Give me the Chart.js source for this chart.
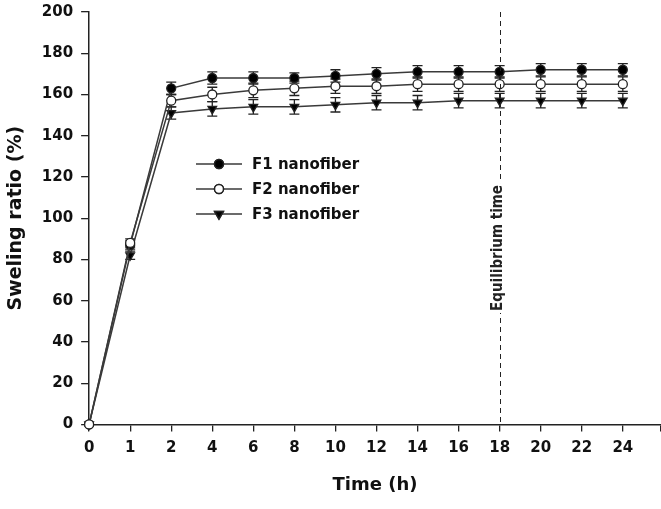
<!DOCTYPE html>
<html>
<head>
<meta charset="utf-8">
<script src="https://cdn.jsdelivr.net/npm/chart.js@4"></script>
<style>
  html, body { margin: 0; padding: 0; background: #fff; }
  #wrap { width: 661px; height: 509px; }
</style>
</head>
<body>
<div id="wrap"><canvas id="swellChart"></canvas></div>
<script>
// time points (h), plotted at equal spacing
const times = ['0', '1', '2', '4', '6', '8', '10', '12', '14', '16', '18', '20', '22', '24'];

// swelling ratio (%) and error bars
const f1 = [0, 87, 163, 168, 168, 168, 169, 170, 171, 171, 171, 172, 172, 172];
const f1Err = [0, 2, 3, 3, 3, 2.5, 3, 3, 3, 3, 3, 3, 3, 3];
const f2 = [0, 88, 157, 160, 162, 163, 164, 164, 165, 165, 165, 165, 165, 165];
const f2Err = [0, 2, 3, 3.5, 3.5, 3.5, 3.5, 3.5, 3.5, 3.5, 3.5, 3.5, 3.5, 3.5];
const f3 = [0, 82, 151, 153, 154, 154, 155, 156, 156, 157, 157, 157, 157, 157];
const f3Err = [0, 2, 3, 3.5, 3.5, 3.5, 3.5, 3.5, 3.5, 3.5, 3.5, 3.5, 3.5, 3.5];

const seriesNames = ['F1 nanofiber', 'F2 nanofiber', 'F3 nanofiber'];
const equilibriumTime = '18';
const yMin = 0, yMax = 200, yStep = 20;
const xMax = 13.93; // axis runs a little past the last time point

const ink = '#222';
const lineCol = '#3a3a3a';

function toPoints(arr) {
    return arr.map((v, i) => ({ x: i, y: v }));
}

// vertical error bars, drawn under the markers
const errorBars = {
    id: 'errorBars',
    beforeDatasetsDraw(chart) {
        const ctx = chart.ctx;
        const xs = chart.scales.x, ys = chart.scales.y;
        ctx.save();
        ctx.strokeStyle = ink;
        ctx.lineWidth = 1.3;
        chart.data.datasets.forEach(ds => {
            ds.data.forEach((p, i) => {
                const e = ds.errors[i];
                if (!e) return;
                const x = xs.getPixelForValue(p.x);
                const yt = ys.getPixelForValue(p.y + e);
                const yb = ys.getPixelForValue(p.y - e);
                ctx.beginPath();
                ctx.moveTo(x, yt); ctx.lineTo(x, yb);
                ctx.moveTo(x - 5, yt); ctx.lineTo(x + 5, yt);
                ctx.moveTo(x - 5, yb); ctx.lineTo(x + 5, yb);
                ctx.stroke();
            });
        });
        ctx.restore();
    }
};

// dashed equilibrium line with its rotated label
const equilibrium = {
    id: 'equilibrium',
    afterDatasetsDraw(chart) {
        const ctx = chart.ctx;
        const xs = chart.scales.x, ys = chart.scales.y;
        const x = Math.round(xs.getPixelForValue(times.indexOf(equilibriumTime))) + 0.5;
        ctx.save();
        ctx.strokeStyle = ink;
        ctx.lineWidth = 1;
        ctx.setLineDash([5, 4]);
        ctx.beginPath();
        ctx.moveTo(x, ys.getPixelForValue(yMax));
        ctx.lineTo(x, ys.getPixelForValue(yMin));
        ctx.stroke();
        ctx.setLineDash([]);
        ctx.translate(x - 2, 248);
        ctx.rotate(-Math.PI / 2);
        ctx.font = 'bold 15px "DejaVu Sans Condensed", "DejaVu Sans"';
        const w = ctx.measureText('Equilibrium time').width;
        ctx.fillStyle = '#fff';
        ctx.fillRect(-w / 2 - 2, -8, w + 4, 16);
        ctx.fillStyle = ink;
        ctx.textAlign = 'center';
        ctx.textBaseline = 'middle';
        ctx.fillText('Equilibrium time', 0, 0);
        ctx.restore();
    }
};

// legend inside the plot
const innerLegend = {
    id: 'innerLegend',
    afterDraw(chart) {
        const ctx = chart.ctx;
        ctx.save();
        chart.data.datasets.forEach((ds, k) => {
            const y = 164 + k * 25;
            ctx.strokeStyle = lineCol;
            ctx.lineWidth = 1.5;
            ctx.beginPath();
            ctx.moveTo(196, y); ctx.lineTo(242, y);
            ctx.stroke();
            Chart.helpers.drawPoint(ctx, {
                pointStyle: ds.pointStyle,
                radius: ds.pointRadius,
                rotation: ds.pointRotation || 0,
                borderWidth: 1.3
            }, 219, y);
            ctx.fillStyle = ds.pointBackgroundColor;
            ctx.strokeStyle = ink;
            ctx.fill();
            ctx.stroke();
            ctx.fillStyle = '#111';
            ctx.font = 'bold 15px "DejaVu Sans"';
            ctx.textBaseline = 'middle';
            ctx.fillText(ds.label, 252, y + 1);
        });
        ctx.restore();
    }
};

const ctx = document.getElementById('swellChart').getContext('2d');
new Chart(ctx, {
    type: 'line',
    data: {
        datasets: [
            { label: seriesNames[0], data: toPoints(f1), errors: f1Err, order: 1,
              pointStyle: 'circle', pointRadius: 4.5, pointBackgroundColor: '#000' },
            { label: seriesNames[1], data: toPoints(f2), errors: f2Err, order: 0,
              pointStyle: 'circle', pointRadius: 4.5, pointBackgroundColor: '#fff' },
            { label: seriesNames[2], data: toPoints(f3), errors: f3Err, order: 2,
              pointStyle: 'triangle', pointRotation: 180, pointRadius: 5, pointBackgroundColor: '#000' }
        ].map(ds => Object.assign({
            borderColor: lineCol,
            borderWidth: 1.5,
            pointBorderColor: ink,
            pointBorderWidth: 1.3,
            tension: 0,
            clip: false
        }, ds))
    },
    options: {
        responsive: true,
        maintainAspectRatio: false,
        animation: false,
        layout: { autoPadding: false, padding: { left: 3, top: 12, right: 0, bottom: 13 } },
        plugins: { legend: { display: false }, tooltip: { enabled: false } },
        scales: {
            x: {
                type: 'linear',
                min: 0,
                max: xMax,
                afterBuildTicks(axis) {
                    // one tick per time point, plus an unlabeled one at the far end
                    axis.ticks = times.map((t, i) => ({ value: i })).concat([{ value: xMax }]);
                },
                afterFit(axis) {
                    // let the axis run right to the edge of the canvas
                    axis.paddingRight = 0;
                },
                ticks: {
                    callback: (v) => times[v] || '',
                    color: '#111',
                    font: { family: 'DejaVu Sans', size: 15, weight: 'bold' },
                    padding: 8,
                    maxRotation: 0,
                    autoSkip: false
                },
                grid: { drawOnChartArea: false, drawTicks: true, tickLength: 7, color: ink, lineWidth: 1.3 },
                border: { display: true, color: ink, width: 1.5 },
                title: {
                    display: true,
                    text: 'Time (h)',
                    color: '#111',
                    font: { family: 'DejaVu Sans', size: 18, weight: 'bold' },
                    padding: { top: 9, bottom: 0 }
                }
            },
            y: {
                min: yMin,
                max: yMax,
                afterFit(axis) {
                    axis.paddingTop = 0;
                    axis.paddingBottom = 0;
                },
                ticks: {
                    stepSize: yStep,
                    color: '#111',
                    font: { family: 'DejaVu Sans', size: 15, weight: 'bold' },
                    padding: 8
                },
                grid: { drawOnChartArea: false, drawTicks: true, tickLength: 8, color: ink, lineWidth: 1.3 },
                border: { display: true, color: ink, width: 1.5 },
                title: {
                    display: true,
                    text: 'Sweling ratio (%)',
                    color: '#111',
                    font: { family: 'DejaVu Sans', size: 19, weight: 'bold' },
                    padding: { top: 2, bottom: 6 }
                }
            }
        }
    },
    plugins: [errorBars, equilibrium, innerLegend]
});
</script>
</body>
</html>
